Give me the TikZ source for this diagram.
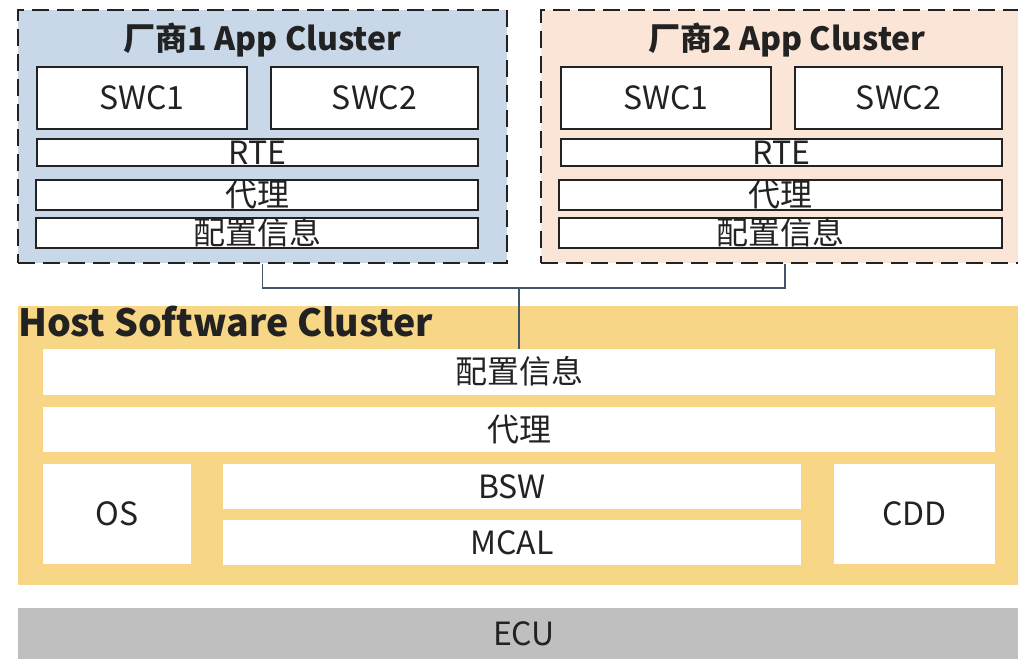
\documentclass[tikz,border=0pt]{standalone}
\usepackage{fontspec}
\setmainfont{Noto Sans CJK SC}
\usetikzlibrary{positioning}

\definecolor{vendorA}{HTML}{C8D8E9}
\definecolor{vendorB}{HTML}{FBE5D6}
\definecolor{hostfill}{HTML}{F7D685}
\definecolor{ecufill}{HTML}{BFBFBF}
\definecolor{busline}{HTML}{44546A}
\definecolor{ink}{HTML}{222222}

\newcommand{\layerfont}{\fontsize{32}{32}\selectfont}
\newcommand{\titlefont}{\fontsize{32}{32}\selectfont\bfseries}
\newcommand{\hostfont}{\fontsize{37.5}{37.5}\selectfont\bfseries}

\begin{document}
\begin{tikzpicture}[x=1pt,y=-1pt]
        \tikzset{every node/.style={inner sep=0pt,text=ink,font=\layerfont,
                text height=23.5pt,text depth=0pt}}
        \tikzset{cluster/.style={draw=ink,line width=2.2pt,dash pattern=on 17pt off 8pt}}
        \tikzset{swcbox/.style={draw=ink,line width=2pt,fill=white}}
        \tikzset{hostbox/.style={fill=white}}
        \useasboundingbox (0,0) rectangle (1018,659);
        % vendor clusters
        \node [cluster,fill=vendorA,minimum width=489pt,minimum height=253pt] (vendor1) at (262.5,136.5) {};
        \node [cluster,fill=vendorB,minimum width=488pt,minimum height=253pt] (vendor2) at (785,136.5) {};
        \node [font=\titlefont,text height=23pt] (title1) at (262.5,39) {厂商1 App Cluster};
        \node [font=\titlefont,text height=23pt] (title2) at (787,39) {厂商2 App Cluster};
        % vendor 1 layers
        \node [swcbox,minimum width=210pt,minimum height=62pt] (swc11) at (142,98) {SWC1};
        \node [swcbox,minimum width=207pt,minimum height=62pt] (swc12) at (374.5,98) {SWC2};
        \node [swcbox,minimum width=441pt,minimum height=27pt] (rte1) at (257.5,152.5) {RTE};
        \node [swcbox,minimum width=442pt,minimum height=30pt] (proxy1) at (257,195) {代理};
        \node [swcbox,minimum width=442pt,minimum height=30pt] (cfg1) at (257,233) {配置信息};
        % vendor 2 layers
        \node [swcbox,minimum width=210pt,minimum height=62pt] (swc21) at (666,98) {SWC1};
        \node [swcbox,minimum width=207pt,minimum height=62pt] (swc22) at (898.5,98) {SWC2};
        \node [swcbox,minimum width=441pt,minimum height=27pt] (rte2) at (781.5,152.5) {RTE};
        \node [swcbox,minimum width=443pt,minimum height=30pt] (proxy2) at (780.5,195) {代理};
        \node [swcbox,minimum width=443pt,minimum height=30pt] (cfg2) at (780.5,233) {配置信息};
        % host software cluster
        \node [fill=hostfill,minimum width=1000pt,minimum height=279pt] (host) at (518,445.5) {};
        \node [font=\hostfont,text height=28pt,anchor=north west] (hosttitle) at ([yshift=-2pt]host.north west) {Host Software Cluster};
        \node [hostbox,minimum width=952pt,minimum height=46pt] (hcfg) at (519,372) {配置信息};
        \node [hostbox,minimum width=952pt,minimum height=45pt] (hproxy) at (519,429.5) {代理};
        \node [hostbox,minimum width=148pt,minimum height=100pt] (os) at (117,514) {OS};
        \node [hostbox,minimum width=578pt,minimum height=45pt] (bsw) at (512,486.5) {BSW};
        \node [hostbox,minimum width=578pt,minimum height=45pt] (mcal) at (512,542.5) {MCAL};
        \node [hostbox,minimum width=161pt,minimum height=100pt] (cdd) at (914.5,514) {CDD};
        % ecu
        \node [fill=ecufill,minimum width=1012pt,minimum height=52pt] (ecu) at (524,634) {ECU};
        % bus
        \coordinate (bus) at (519,288);
        \draw [busline,line width=1.3pt] (vendor1.south) |- (bus) -| (vendor2.south);
        \draw [busline,line width=1.3pt] (bus) -- (hcfg.north);
\end{tikzpicture}
\end{document}
